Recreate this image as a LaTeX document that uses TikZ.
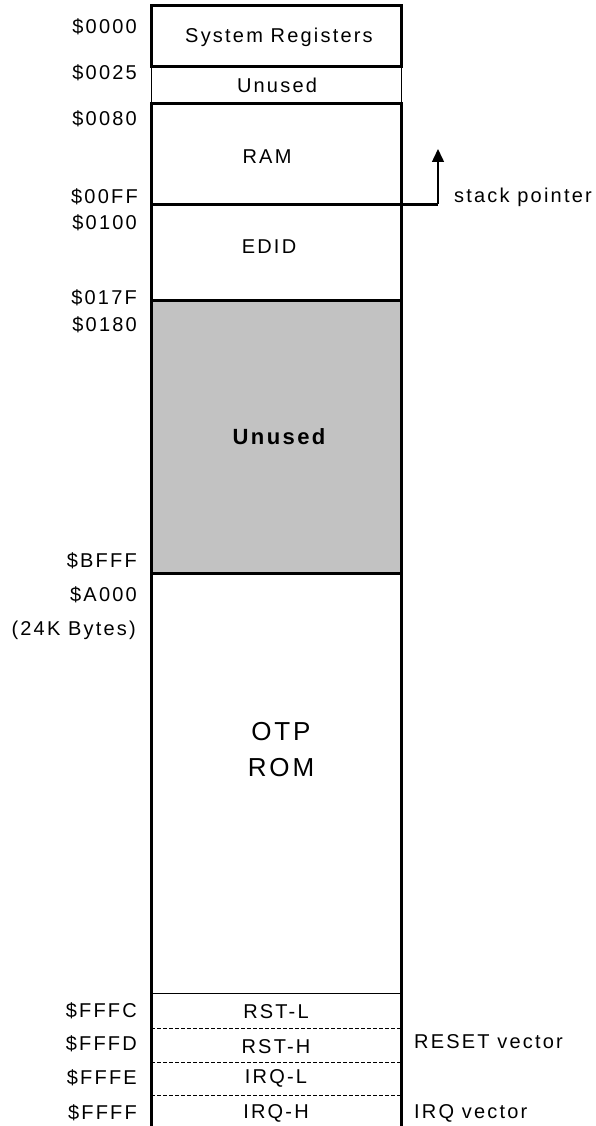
\documentclass[tikz,border=0pt]{standalone}
\usepackage{fontspec}
\setmainfont{Liberation Sans}[LetterSpace=11]
\usetikzlibrary{arrows.meta}
\tikzset{
  thickln/.style={line width=3pt, line cap=rect},
  thinln/.style={line width=1pt},
  dashln/.style={line width=1pt, dash pattern=on 4pt off 2pt},
  addr/.style={anchor=east, inner sep=0pt, font=\fontsize{20}{24}\selectfont},
  lbl/.style={inner sep=0pt, font=\fontsize{20}{24}\selectfont},
  side/.style={anchor=west, inner sep=0pt, font=\fontsize{20}{24}\selectfont},
}
\begin{document}
\begin{tikzpicture}[x=1pt,y=-1pt]
\useasboundingbox (0,0) rectangle (596,1126);
% regions
\fill[black!24] (151,300) rectangle (401,573);
\draw[thinln] (151,67) rectangle (401,104);
\draw[thickln] (151,6) rectangle (401,67);
\draw[thickln] (151,104) rectangle (401,300);
\draw[thickln] (151,300) rectangle (401,573);
\draw[thickln] (151,573) -- (151,1130);
\draw[thickln] (401,573) -- (401,1130);
\draw[thinln] (151,993) -- (401,993);
\draw[dashln] (151,1028) -- (401,1028);
\draw[dashln] (151,1062) -- (401,1062);
\draw[dashln] (151,1095) -- (401,1095);
% stack pointer
\coordinate (spl) at (151,204);
\coordinate (spr) at (438,204);
\coordinate (sptip) at (438,149);
\draw[thickln, line cap=butt] (spl) -- (spr);
\draw[line width=1.5pt, -{Triangle[width=12pt,length=13pt]}] (spr) -- (sptip);
\node[side, anchor=base west] (sp) at (454,203) {stack pointer};
% region labels
\node[lbl] (sysreg) at (279,37) {System Registers};
\node[lbl] (un1) at (277,85) {Unused};
\node[lbl] (ram) at (267,157) {RAM};
\node[lbl] (edid) at (269,247) {EDID};
\node[lbl, font=\fontsize{22}{26}\selectfont\bfseries] (un2) at (279,437) {Unused};
\node[lbl, font=\fontsize{26}{30}\selectfont] (otp) at (281,732) {OTP};
\node[lbl, font=\fontsize{26}{30}\selectfont] (rom) at (281,768) {ROM};
\node[lbl] (rstl) at (276,1012) {RST-L};
\node[lbl] (rsth) at (276,1047) {RST-H};
\node[lbl] (irql) at (276,1078) {IRQ-L};
\node[lbl] (irqh) at (276,1113) {IRQ-H};
\node[side] (resetv) at (414,1042) {RESET vector};
\node[side] (irqv) at (414,1113) {IRQ vector};
% addresses
\node[addr] (a0) at (137,27) {\$0000};
\node[addr] (a1) at (137,73) {\$0025};
\node[addr] (a2) at (137,119) {\$0080};
\node[addr] (a3) at (138,197) {\$00FF};
\node[addr] (a4) at (137,223) {\$0100};
\node[addr] (a5) at (137,298) {\$017F};
\node[addr] (a6) at (137,325) {\$0180};
\node[addr] (a7) at (137,561) {\$BFFF};
\node[addr] (a8) at (137,595) {\$A000};
\node[addr] (a9) at (136,630) {(24K Bytes)};
\node[addr] (a10) at (137,1011) {\$FFFC};
\node[addr] (a11) at (137,1044) {\$FFFD};
\node[addr] (a12) at (137,1078) {\$FFFE};
\node[addr] (a13) at (137,1113) {\$FFFF};
\end{tikzpicture}
\end{document}
